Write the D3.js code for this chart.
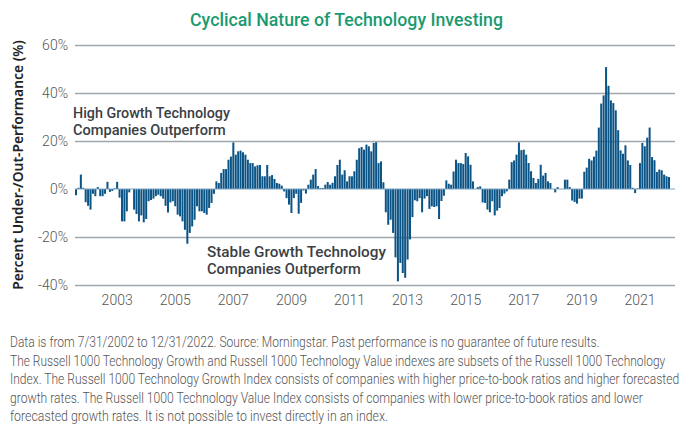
<!DOCTYPE html>
<html>
<head>
<meta charset="utf-8">
<script src="https://cdn.jsdelivr.net/npm/d3@7"></script>
<style>
  body { margin: 0; background: #fff; }
  svg { display: block; }
</style>
</head>
<body>
<script>
// monthly performance spread, growth minus value (%), 7/2002 .. 12/2022
const firstMonth = "2002-07-01";
const lastMonth = "2022-12-01";
const spread = [
  -2.6, 0.5, 6, 0.5, -5.5, -7, -8.6, -2, -3, 0.8, -3, -3, -2, 3, -1.2, -0.8, 0.3, 3, -3.6, -13.5,
  -13.5, -9.3, -1.4, 0, -8.6, -10.4, -13.5, -11, -13.9, -12.5, -5.1, -4.6, -4, -3, -2.4, -3, -4, -7, -9.8, -5.6,
  -5.1, -7.2, -10.7, -11.4, -13.5, -17, -22.8, -18.3, -15.6, -12.8, -7.2, -9.3, -9.3, -10, -10.7, -7.9, -5.8, -2, 3.2, 2.5,
  6.7, 8.3, 8.3, 12.2, 13.5, 19.4, 14.3, 15.7, 16, 15.3, 14.3, 12.2, 10.8, 10.8, 9.4, 9.9, 10, 5.3, 5.3, 10,
  5.3, 5.8, 4.2, 2.5, 2.2, 1.4, -1, -3.8, -6.5, -10, -3.8, -2, -10.3, -5.8, -0.6, -1.9, 1.8, 3.9, 6, 8.3,
  1.2, 0.4, 0.4, 1.8, 2.9, 1.8, 2.6, 5.3, 10, 12.2, 6, 7.8, 3.2, 5.3, 5.3, 7.4, 12.2, 17, 17.5, 16.4,
  18.5, 17.8, 15.7, 19.2, 19.5, 10.8, 11.5, 2.8, -9.7, -14.9, -12.8, -18.3, -28.5, -38.5, -30.8, -35, -37, -29.4, -21, -11.7,
  -4.7, -5.1, -3.8, -9.7, -4, -3, -8.3, -7.2, -7.5, -7.2, -12.5, -5, -2.8, 3.6, 2.2, 1.8, 7.3, 12.2, 10.8, 10.8,
  10.4, 15, 13.6, 10.1, 3.2, 0, 0.8, 1.1, -5.6, -5.8, -8.6, -9.7, -5.1, -11, -9, -7.9, -3, -1.9, -1, 3.9,
  11.2, 11.9, 14.3, 19.4, 16.2, 16.4, 14.3, 10.8, 7.4, 4.6, 2.5, 4.2, 10.1, 5.6, 6.7, 3.2, 2.5, 0, -1.4, 0.8,
  0, 0, 3.9, 3.9, 0.8, -4.8, -5.4, -6.1, -4, -4, 7.2, 8.9, 12.6, 11.9, 13.5, 16, 25.6, 35.6, 39, 50.8,
  43, 36.9, 35.8, 32.8, 24.5, 16.1, 14.7, 18.2, 11.9, 10, 0.5, -1.7, 0.3, 10.8, 19.2, 17.8, 21.4, 25.6, 13.3, 12,
  7.1, 8.1, 7.8, 6, 5.3, 5
];
const yTicks = [-40, -20, 0, 20, 40, 60];
const yearLabels = ["2003", "2005", "2007", "2009", "2011", "2013", "2015", "2017", "2019", "2021"];

const titleText = "Cyclical Nature of Technology Investing";
const yLabel = "Percent Under-/Out-Performance (%)";
const highNote = ["High Growth Technology", "Companies Outperform"];
const lowNote = ["Stable Growth Technology", "Companies Outperform"];
const footNotes = [
  "Data is from 7/31/2002 to 12/31/2022. Source: Morningstar. Past performance is no guarantee of future results.",
  "The Russell 1000 Technology Growth and Russell 1000 Technology Value indexes are subsets of the Russell 1000 Technology",
  "Index. The Russell 1000 Technology Growth Index consists of companies with higher price-to-book ratios and higher forecasted",
  "growth rates. The Russell 1000 Technology Value Index consists of companies with lower price-to-book ratios and lower",
  "forecasted growth rates. It is not possible to invest directly in an index."
];

const width = 691;
const height = 435;
const plot = { left: 75, right: 675, barsRight: 670, top: 45, bottom: 285 };
const font = "Roboto, 'Open Sans', sans-serif";

// months as category keys
const fmt = d3.timeFormat("%Y-%m");
const months = d3.timeMonth.range(new Date(firstMonth + "T00:00"), d3.timeMonth.offset(new Date(lastMonth + "T00:00"), 1)).map(fmt);
const data = months.map((m, i) => ({ month: m, value: spread[i] }));

const svg = d3.select("body").append("svg")
  .attr("width", width)
  .attr("height", height);

// squeeze a text horizontally to a given width (the reference font is condensed)
function squeeze(textSel, x0, y0, w, extra) {
  textSel.each(function() {
    const n = this.getComputedTextLength();
    d3.select(this).attr("transform", `translate(${x0},${y0}) ${extra || ""} scale(${w / n},1)`);
  });
}

const x = d3.scaleBand()
  .domain(months)
  .range([plot.left, plot.barsRight])
  .paddingInner(0.17)
  .paddingOuter(0);

const y = d3.scaleLinear()
  .domain([-40, 60])
  .range([plot.bottom, plot.top]);

// title
const title = svg.append("text")
  .style("font-family", font)
  .style("font-size", "18px")
  .style("font-weight", 500)
  .style("fill", "#1b9a70")
  .text(titleText);
squeeze(title, 190, 26, 313);

// gridlines + y labels
const yAxis = svg.append("g")
  .attr("transform", `translate(${plot.left},0)`)
  .call(d3.axisLeft(y).tickValues(yTicks).tickSize(-(plot.right - plot.left)).tickPadding(7).tickFormat(d => d + "%"));
yAxis.select(".domain").remove();
yAxis.selectAll(".tick line")
  .attr("stroke", "#9ea6ad")
  .attr("stroke-width", 1.4)
  .attr("stroke-opacity", d => d === 0 ? 0 : 1);
yAxis.selectAll(".tick text")
  .style("font-family", font)
  .style("font-size", "14px")
  .style("font-weight", 300)
  .style("fill", "#555");

// bars
svg.append("g")
  .selectAll("rect")
  .data(data)
  .enter()
  .append("rect")
  .attr("x", d => x(d.month))
  .attr("width", x.bandwidth())
  .attr("y", d => y(Math.max(0, d.value)))
  .attr("height", d => Math.abs(y(d.value) - y(0)))
  .attr("fill", "#0b5486");

// zero baseline
svg.append("line")
  .attr("x1", plot.left)
  .attr("x2", plot.right)
  .attr("y1", y(0))
  .attr("y2", y(0))
  .attr("stroke", "#7ea3c0")
  .attr("stroke-width", 1);

// year labels sit under December of each year
const xAxis = svg.append("g")
  .attr("transform", `translate(0,${plot.bottom})`)
  .call(d3.axisBottom(x)
    .tickValues(yearLabels.map(yr => yr + "-12"))
    .tickSize(0)
    .tickPadding(10)
    .tickFormat(d => d.slice(0, 4)));
xAxis.select(".domain").remove();
xAxis.selectAll("text")
  .style("font-family", font)
  .style("font-size", "14px")
  .style("font-weight", 300)
  .style("fill", "#555");

// y axis title
const yTitle = svg.append("text")
  .attr("text-anchor", "middle")
  .style("font-family", "'Noto Sans', sans-serif")
  .style("font-size", "13.5px")
  .style("font-weight", 600)
  .style("fill", "#222")
  .text(yLabel);
squeeze(yTitle, 23, 165, 250, "rotate(-90)");

// annotations
function note(lines, x0, y0, widths) {
  svg.append("g")
    .selectAll("text")
    .data(lines)
    .enter()
    .append("text")
    .style("font-family", font)
    .style("font-size", "14px")
    .style("font-weight", 500)
    .style("fill", "#3a3f45")
    .text(d => d)
    .each(function(d, i) {
      squeeze(d3.select(this), x0, y0 + i * 17, widths[i]);
    });
}
note(highNote, 73, 118, [157, 153]);
note(lowNote, 207, 257, [179, 154]);

// footnotes
const noteWidths = [590, 656, 670, 633, 378];
svg.append("g")
  .selectAll("text")
  .data(footNotes)
  .enter()
  .append("text")
  .style("font-family", font)
  .style("font-size", "14.5px")
  .style("font-weight", 300)
  .style("fill", "#555")
  .text(d => d)
  .each(function(d, i) {
    squeeze(d3.select(this), 10, 347 + i * 18.6, noteWidths[i]);
  });
</script>
</body>
</html>
